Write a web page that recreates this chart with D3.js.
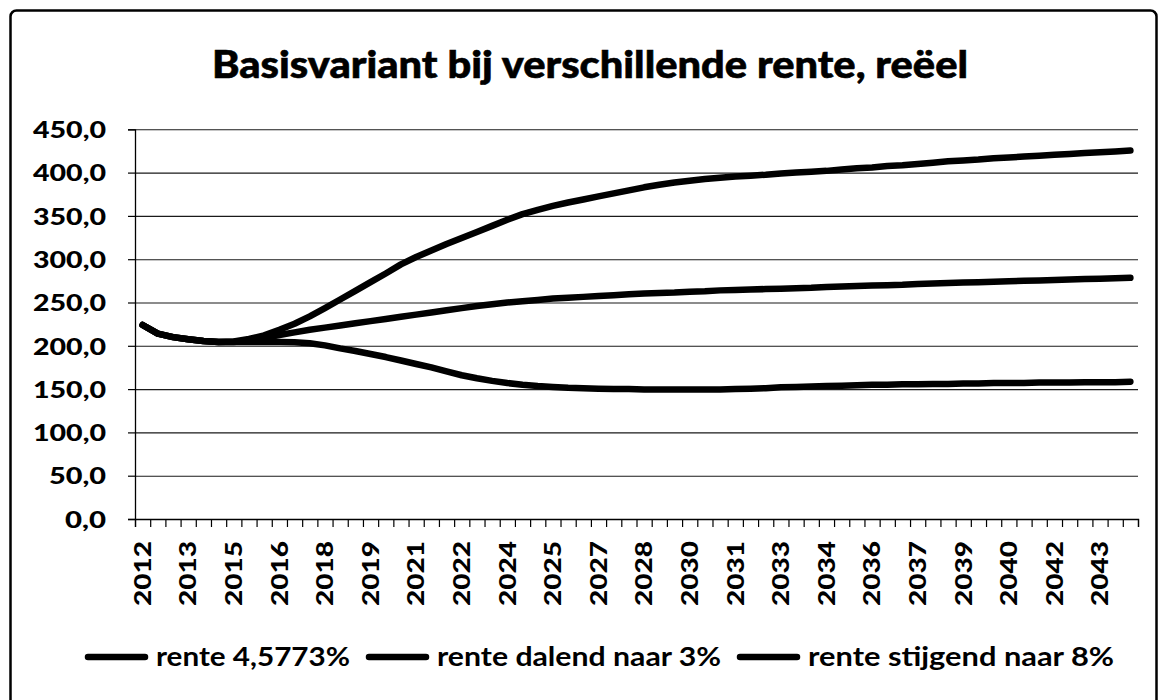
<!DOCTYPE html>
<html>
<head>
<meta charset="utf-8">
<script src="https://cdn.jsdelivr.net/npm/d3@7"></script>
<style>
  html, body { margin: 0; padding: 0; background: #fff; }
  svg { display: block; }
</style>
</head>
<body>
<svg id="chart" width="1163" height="700"></svg>
<script>
// Chart title
const chartTitle = "Basisvariant bij verschillende rente, reëel";

// Half-year periods (each year appears twice), 2012 through 2044
const periods = [
  "2012","2012","2013","2013","2014","2014","2015","2015","2016","2016",
  "2017","2017","2018","2018","2019","2019","2020","2020","2021","2021",
  "2022","2022","2023","2023","2024","2024","2025","2025","2026","2026",
  "2027","2027","2028","2028","2029","2029","2030","2030","2031","2031",
  "2032","2032","2033","2033","2034","2034","2035","2035","2036","2036",
  "2037","2037","2038","2038","2039","2039","2040","2040","2041","2041",
  "2042","2042","2043","2043","2044","2044"
];

// Only every third period gets a label on the axis
const labelEvery = 3;

// Series names (legend)
const seriesNames = ["rente 4,5773%", "rente dalend naar 3%", "rente stijgend naar 8%"];

// rente 4,5773%
const renteBasis = [
  224, 214, 210, 207.5, 205.5, 204.5, 204.5, 206, 209, 212.5,
  215.5, 218.5, 221, 223.5, 226, 228.5, 231, 233.5, 236, 238.5,
  241, 243.5, 246, 248, 250, 251.5, 253, 254.5, 255.5, 256.5,
  257.5, 258.5, 259.5, 260.5, 261, 261.5, 262.5, 263, 264, 264.5,
  265, 265.5, 266, 266.5, 267, 268, 268.5, 269, 269.5, 270,
  270.5, 271.5, 272, 272.5, 273, 273.5, 274, 274.5, 275, 275.5,
  276, 276.5, 277, 277.5, 278, 278.5
];

// rente dalend naar 3%
const renteDalend = [
  224, 214, 210, 207.5, 205.5, 204.5, 205, 208, 212, 218.5,
  225.5, 234, 243.5, 253.5, 263.5, 273.5, 283.5, 294, 302.5, 310,
  317.5, 324.5, 331.5, 338.5, 345.5, 352, 357, 361.5, 365.5, 369,
  372.5, 376, 379.5, 383, 386, 388.5, 390.5, 392.5, 394, 395.5,
  396.5, 397.5, 399, 400, 401, 402, 403.5, 405, 406, 407.5,
  408.5, 410, 411.5, 413, 414, 415, 416.5, 417.5, 418.5, 419.5,
  420.5, 421.5, 422.5, 423.5, 424.5, 425.5
];

// rente stijgend naar 8%
const renteStijgend = [
  224, 214, 210, 207.5, 205.5, 204.5, 204.5, 204.5, 204.5, 204.5,
  204, 203, 200.5, 197, 194, 190.5, 187, 183, 179, 175,
  170.5, 166, 162.5, 159.5, 157, 155, 153.5, 152.5, 151.5, 151,
  150.5, 150, 150, 149.5, 149.5, 149.5, 149.5, 149.5, 149.5, 150,
  150.5, 151, 152, 152.5, 153, 153.5, 154, 154.5, 155, 155,
  155.5, 155.5, 156, 156, 156.5, 156.5, 157, 157, 157, 157.5,
  157.5, 157.5, 158, 158, 158, 158.5
];

// Value axis ticks
const yTicks = [0, 50, 100, 150, 200, 250, 300, 350, 400, 450];

const seriesValues = [renteBasis, renteDalend, renteStijgend];

// ---- layout ----
const svg = d3.select("#chart");
const plot = { left: 135, right: 1138, top: 129.3, bottom: 519 };
const fontMain = "Lato, 'Open Sans', sans-serif";

// outer frame
svg.append("rect")
  .attr("x", 10.5).attr("y", 10.5)
  .attr("width", 1146).attr("height", 800)
  .attr("rx", 6)
  .attr("fill", "#fff")
  .attr("stroke", "#000")
  .attr("stroke-width", 2.5);

// title
svg.append("text")
  .attr("x", 212).attr("y", 78)
  .attr("font-family", fontMain)
  .attr("font-weight", 900)
  .attr("font-size", 37)
  .attr("textLength", 756)
  .attr("lengthAdjust", "spacingAndGlyphs")
  .attr("fill", "#000")
  .attr("stroke", "#000")
  .attr("stroke-width", 0.6)
  .text(chartTitle);

// scales
const x = d3.scaleBand()
  .domain(d3.range(periods.length))
  .range([plot.left, plot.right])
  .paddingInner(0).paddingOuter(0);

const xEdges = d3.scaleLinear()
  .domain([0, periods.length])
  .range([plot.left, plot.right]);

const y = d3.scaleLinear()
  .domain([0, 450])
  .range([plot.bottom, plot.top]);

// horizontal gridlines
svg.append("g")
  .attr("transform", `translate(${plot.left},0)`)
  .call(d3.axisLeft(y).tickValues(yTicks).tickSize(-(plot.right - plot.left)).tickFormat(""))
  .call(g => g.select(".domain").remove())
  .call(g => g.selectAll("line").attr("stroke", "#1a1a1a").attr("stroke-width", 1.1));

// value axis with ticks and labels
const fmt = v => v.toFixed(1).replace(".", ",");
const yAxis = svg.append("g")
  .attr("transform", `translate(${plot.left},0)`)
  .call(d3.axisLeft(y).tickValues(yTicks).tickSize(7).tickPadding(22).tickFormat(fmt));
yAxis.select(".domain").attr("stroke", "#000").attr("stroke-width", 1.3);
yAxis.selectAll(".tick line").attr("stroke", "#000").attr("stroke-width", 1.2);
yAxis.selectAll(".tick text")
  .attr("font-family", fontMain)
  .attr("font-weight", 900)
  .attr("font-size", 23)
  .attr("fill", "#000")
  .attr("dy", "0.36em")
  .attr("textLength", d => fmt(d).replace(",", "").length * 16 + 9)
  .attr("lengthAdjust", "spacingAndGlyphs");

// category axis: ticks at period boundaries
const xAxis = svg.append("g")
  .attr("transform", `translate(0,${plot.bottom})`)
  .call(d3.axisBottom(xEdges).tickValues(d3.range(periods.length + 1)).tickSize(8).tickFormat(""));
xAxis.select(".domain").attr("stroke", "#000").attr("stroke-width", 1.3);
xAxis.selectAll(".tick line").attr("stroke", "#000").attr("stroke-width", 1.2);

// rotated period labels
svg.append("g")
  .selectAll("text")
  .data(periods.map((p, i) => ({ p, i })).filter(d => d.i % labelEvery === 0))
  .join("text")
  .attr("transform", d => `translate(${x(d.i) + x.bandwidth() / 2},${plot.bottom + 22}) rotate(-90)`)
  .attr("text-anchor", "end")
  .attr("dy", "0.36em")
  .attr("font-family", fontMain)
  .attr("font-weight", 900)
  .attr("font-size", 23)
  .attr("textLength", 65)
  .attr("lengthAdjust", "spacingAndGlyphs")
  .attr("fill", "#000")
  .text(d => d.p);

// series lines
const line = d3.line()
  .x((d, i) => x(i) + x.bandwidth() / 2)
  .y(d => y(d));

svg.append("g")
  .selectAll("path")
  .data(seriesValues)
  .join("path")
  .attr("d", line)
  .attr("fill", "none")
  .attr("stroke", "#000")
  .attr("stroke-width", 6.5)
  .attr("stroke-linejoin", "round")
  .attr("stroke-linecap", "round");

// legend
const legendY = 657;
const sampleLen = 63;
const textWidths = [194, 284, 306];
let lx = 85;
const legend = svg.append("g");
seriesNames.forEach((name, k) => {
  legend.append("line")
    .attr("x1", lx + 3).attr("x2", lx + sampleLen - 3)
    .attr("y1", legendY).attr("y2", legendY)
    .attr("stroke", "#000").attr("stroke-width", 6.5)
    .attr("stroke-linecap", "round");
  legend.append("text")
    .attr("x", lx + sampleLen + 8).attr("y", legendY)
    .attr("dy", "0.36em")
    .attr("font-family", fontMain)
    .attr("font-weight", 700)
    .attr("font-size", 26)
    .attr("textLength", textWidths[k])
    .attr("lengthAdjust", "spacingAndGlyphs")
    .attr("fill", "#000")
    .text(name);
  lx += sampleLen + 8 + textWidths[k] + 16;
});
</script>
</body>
</html>
